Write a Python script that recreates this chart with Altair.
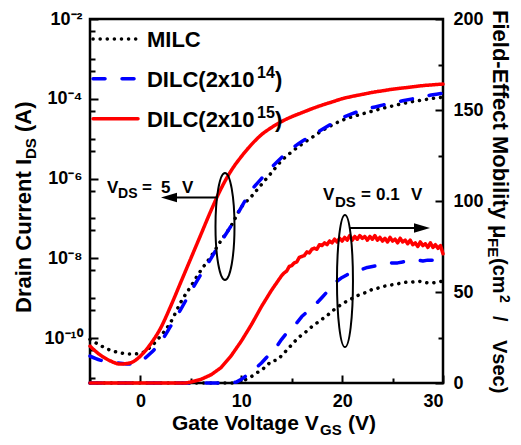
import altair as alt
import pandas as pd

# ---------------- data ----------------
SERIES = ["MILC", "DILC(2x10^14)", "DILC(2x10^15)"]
COLORS = ["#000000", "#0000ff", "#ff0000"]
DASHES = [[0.1, 7], [12, 17], [1, 0]]

# transfer curves (left axis), log10 of drain current
V_ID = [-5, -4, -3, -2, -1, 0, 1, 2, 3, 4, 5, 6, 7, 8, 9, 10, 11, 12, 13, 14,
        15, 16, 17, 18, 19, 20, 21, 22, 23, 24, 25, 26, 27, 28, 29, 30]
LOGI_MILC = [-10.03, -10.18, -10.3, -10.37, -10.4, -10.38, -10.22, -9.95, -9.6, -9.1,
             -8.7, -8.3, -7.95, -7.55, -7.18, -6.72, -6.45, -6.15, -5.85, -5.55,
             -5.33, -5.14, -4.97, -4.8, -4.66, -4.54, -4.45, -4.38, -4.31, -4.24,
             -4.18, -4.12, -4.07, -4.03, -3.99, -3.96]
LOGI_D14 = [-10.45, -10.55, -10.6, -10.63, -10.65, -10.58, -10.38, -10.1, -9.7, -9.28,
            -8.83, -8.4, -8.0, -7.58, -7.18, -6.72, -6.3, -6.0, -5.72, -5.47,
            -5.25, -5.07, -4.92, -4.77, -4.62, -4.48, -4.37, -4.29, -4.22, -4.16,
            -4.1, -4.05, -4.0, -3.95, -3.9, -3.86]
LOGI_D15 = [-10.2, -10.42, -10.57, -10.65, -10.62, -10.45, -10.15, -9.75, -9.2, -8.6,
            -8.0, -7.4, -6.8, -6.25, -5.8, -5.45, -5.15, -4.9, -4.72, -4.57,
            -4.45, -4.35, -4.25, -4.16, -4.08, -4.0, -3.94, -3.89, -3.84, -3.8,
            -3.76, -3.73, -3.7, -3.67, -3.65, -3.63]

# field-effect mobility (right axis)
V_MU_MILC = [-5, 0, 5, 9.5, 10, 10.5, 11, 11.5, 12, 12.5, 13, 13.5, 14, 14.5, 15, 15.5,
             16, 16.5, 17, 17.5, 18, 18.5, 19, 19.5, 20, 20.5, 21, 21.5, 22, 22.5,
             23, 23.5, 24, 24.5, 25, 25.5, 26, 26.5, 27, 27.5, 28, 28.5, 29, 29.5, 30]
MU_MILC = [0, 0, 0, 0, 1, 2, 3.5, 5.5, 7, 9.5, 12, 12.5, 15, 18, 21, 24,
           26.5, 28.5, 31, 33, 35, 37, 39.5, 41.5, 43.5, 45, 46.5, 48, 49, 50,
           51.5, 52, 53, 53.5, 54, 54.5, 55, 55.5, 55.5, 56, 55.5, 55, 55, 55.5, 56]

V_MU_D14 = [-5, 0, 5, 9, 9.5, 10, 10.5, 11, 11.5, 12, 12.5, 13, 13.5, 14, 14.5, 15,
            15.5, 16, 16.5, 17, 17.5, 18, 18.5, 19, 19.5, 20, 20.5, 21, 21.5, 22,
            22.5, 23, 23.5, 24, 24.5, 25, 25.5, 26, 26.5, 27, 27.5, 28, 28.5, 29,
            29.5, 30]
MU_D14 = [0, 0, 0, 0, 0.5, 2, 4, 6.5, 8.5, 11, 14, 17, 20, 24, 27.5, 30,
          33, 36.5, 39, 41.5, 44, 47, 50, 52.5, 56, 58, 59.5, 61, 62, 62.5,
          63.5, 64, 64.5, 65, 65.5, 66, 66, 66.5, 67, 67.5, 67.5, 67, 67.5, 67.5,
          68, 68]

V_MU_D15 = ([-5, 0, 4.5, 5, 6, 7, 8, 9, 10, 10.5, 11, 11.5, 12, 12.5, 13, 13.5]
            + [14, 14.25, 14.5, 14.75, 15, 15.25, 15.5, 15.75, 16, 16.25, 16.5, 16.75,
               17, 17.25, 17.5, 17.75, 18, 18.25, 18.5, 18.75, 19, 19.25, 19.5, 19.75,
               20, 20.25, 20.5, 20.75, 21, 21.25, 21.5, 21.75, 22, 22.25, 22.5, 22.75,
               23, 23.25, 23.5, 23.75, 24, 24.25, 24.5, 24.75, 25, 25.25, 25.5, 25.75,
               26, 26.25, 26.5, 26.75, 27, 27.25, 27.5, 27.75, 28, 28.25, 28.5, 28.75,
               29, 29.25, 29.5, 29.75, 30])
MU_D15 = ([0, 0, 0, 0.5, 2, 4.5, 8.5, 15, 23, 27.5, 32, 37, 42, 46.5, 51, 55]
          + [59, 60.5, 61.5, 64, 64.5, 66, 66.5, 69, 69.5, 70, 72, 71.5,
             73.5, 74, 73.5, 76, 75.5, 77, 76, 78, 77, 79, 77.5, 79.5,
             78, 80, 78.5, 81, 78.5, 80.5, 79, 81, 79.5, 80.5, 78.5, 80.5,
             79, 81, 78.5, 80, 78, 79.5, 77.5, 80, 78, 79, 77, 79.5,
             77.5, 78.5, 76.5, 78.5, 76, 77, 75, 77.5, 75.5, 76.5, 74.5, 77,
             74.5, 76, 74, 75.5, 71])

# axis tick values
X_LABELS = [0, 10, 20, 30]
X_MINOR = [-5, 5, 15, 25]
I_LABELS = [1e-10, 1e-8, 1e-6, 1e-4, 1e-2]
I_MINOR = [1e-11, 5e-11, 5e-10, 1e-9, 5e-9, 5e-8, 1e-7, 5e-7, 5e-6, 1e-5, 5e-5,
           5e-4, 1e-3, 5e-3]
MU_LABELS = [0, 50, 100, 150, 200]
MU_MINOR = [25, 75, 125, 175]

# ---------------- tables ----------------
rows = []
for s, logs in zip(SERIES, [LOGI_MILC, LOGI_D14, LOGI_D15]):
    for v, l in zip(V_ID, logs):
        rows.append({"V": v, "I": 10 ** l, "series": s})
df_id = pd.DataFrame(rows)

rows = []
for s, vs, ms in zip(SERIES, [V_MU_MILC, V_MU_D14, V_MU_D15], [MU_MILC, MU_D14, MU_D15]):
    for v, m in zip(vs, ms):
        rows.append({"V": v, "mu": m, "series": s})
df_mu = pd.DataFrame(rows)

one = pd.DataFrame({"k": [0]})

# ---------------- layout / style ----------------
FONT = "Liberation Sans"
W, H = 353, 364


def xsc():
    return alt.Scale(domain=[-5, 30], nice=False, zero=False)


def isc():
    return alt.Scale(type="log", domain=[7.5e-12, 1e-2], nice=False)


def msc():
    return alt.Scale(domain=[0, 200], nice=False, zero=False)


color_enc = alt.Color("series:N", scale=alt.Scale(domain=SERIES, range=COLORS), legend=None)
dash_enc = alt.StrokeDash("series:N", scale=alt.Scale(domain=SERIES, range=DASHES), legend=None)


def label_axis(orient, values, pad, expr=None):
    kw = dict(orient=orient, values=values, ticks=False, tickSize=0, domain=False, grid=False,
              labelFont=FONT, labelFontSize=18, labelFontWeight="bold", labelColor="black",
              labelPadding=pad, labelOverlap=False, title=None)
    if expr:
        kw["labelExpr"] = expr
    return alt.Axis(**kw)


def tick_axis(orient, offset, values, size):
    return alt.Axis(orient=orient, offset=offset, values=values, ticks=True, tickSize=size,
                    tickWidth=2, tickColor="black", labels=False, domain=False, grid=False,
                    title=None)


I_EXPR = ("datum.value > 1e-3 ? '10\u207b\u00b2' : datum.value > 1e-5 ? '10\u207b\u2074' : "
          "datum.value > 1e-7 ? '10\u207b\u2076' : datum.value > 1e-9 ? '10\u207b\u2078' : "
          "'10\u207b\u00b9\u2070'")

layers = []

# transfer curves + left labels + bottom labels
layers.append(
    alt.Chart(df_id).mark_line(strokeWidth=3.5, strokeCap="round", strokeJoin="round",
                               interpolate="monotone").encode(
        x=alt.X("V:Q", scale=xsc(), axis=label_axis("bottom", X_LABELS, 9)),
        y=alt.Y("I:Q", scale=isc(), axis=label_axis("left", I_LABELS, 8, I_EXPR)),
        color=color_enc, strokeDash=dash_enc,
    )
)
# inward ticks: bottom major / left major
layers.append(
    alt.Chart(df_id).mark_line(opacity=0).encode(
        x=alt.X("V:Q", scale=xsc(), axis=tick_axis("top", -H, X_LABELS, 8)),
        y=alt.Y("I:Q", scale=isc(), axis=tick_axis("right", -W, I_LABELS, 8)),
    )
)
layers.append(
    alt.Chart(df_id).mark_line(opacity=0).encode(
        x=alt.X("V:Q", scale=xsc(), axis=tick_axis("top", -H, X_MINOR, 5)),
        y=alt.Y("I:Q", scale=isc(), axis=tick_axis("right", -W, I_MINOR, 5)),
    )
)
# mobility curves + right labels
layers.append(
    alt.Chart(df_mu).mark_line(strokeWidth=3.5, strokeCap="round", strokeJoin="round").encode(
        x=alt.X("V:Q", scale=xsc(), axis=None),
        y=alt.Y("mu:Q", scale=msc(), axis=label_axis("right", MU_LABELS, 10)),
        color=color_enc, strokeDash=dash_enc,
    )
)
layers.append(
    alt.Chart(df_mu).mark_line(opacity=0).encode(
        x=alt.X("V:Q", scale=xsc(), axis=None),
        y=alt.Y("mu:Q", scale=msc(), axis=tick_axis("left", -W, MU_LABELS, 8)),
    )
)
layers.append(
    alt.Chart(df_mu).mark_line(opacity=0).encode(
        x=alt.X("V:Q", scale=xsc(), axis=None),
        y=alt.Y("mu:Q", scale=msc(), axis=tick_axis("left", -W, MU_MINOR, 5)),
    )
)


def xd(v):
    return alt.XDatum(v, type="quantitative", scale=xsc(), axis=None)


def yd(v, sc):
    return alt.YDatum(v, type="quantitative", scale=sc, axis=None)


def dtext(t, v, yv, sc, size, dx=0, dy=0):
    return alt.Chart(one).mark_text(
        text=t, font=FONT, fontSize=size, fontWeight="bold", color="black",
        align="left", baseline="alphabetic", dx=dx, dy=dy,
    ).encode(x=xd(v), y=yd(yv, sc))


def ptext(t, x, y, size, angle=0):
    return alt.Chart(one).mark_text(
        text=t, font=FONT, fontSize=size, fontWeight="bold", color="black",
        align="left", baseline="alphabetic", angle=angle,
    ).encode(x=alt.value(x), y=alt.value(y))


def ellipse_path(ratio):
    k = 0.5523
    a = ratio
    ka = k * a
    return (f"M0,-1C{ka:.4f},-1 {a:.4f},-{k} {a:.4f},0C{a:.4f},{k} {ka:.4f},1 0,1"
            f"C{-ka:.4f},1 {-a:.4f},{k} {-a:.4f},0C{-a:.4f},-{k} {-ka:.4f},-1 0,-1Z")


# legend (inside plot, data coordinates)
LEG_X0, LEG_X1, LEG_TX = -4.7, -0.24, 0.65
LEG_ROWS = [10 ** -2.5, 10 ** -3.5, 10 ** -4.5]
LEG_BASE = [10 ** -2.7, 10 ** -3.7, 10 ** -4.7]
for col, dash, yv in zip(COLORS, DASHES, LEG_ROWS):
    layers.append(
        alt.Chart(one).mark_rule(strokeWidth=3.5, strokeCap="round", color=col, strokeDash=dash)
        .encode(x=xd(LEG_X0), x2=alt.X2Datum(LEG_X1), y=yd(yv, isc()))
    )
layers.append(dtext("MILC", LEG_TX, LEG_BASE[0], isc(), 22))
for exp, yv in zip(["14", "15"], LEG_BASE[1:]):
    layers.append(dtext("DILC(2x10", LEG_TX, yv, isc(), 22))
    layers.append(dtext(exp, LEG_TX, yv, isc(), 16, dx=110, dy=-9))
    layers.append(dtext(")", LEG_TX, yv, isc(), 22, dx=128))

# V_DS = 5 V annotation
A1V, A1I = -3.31, 10 ** -6.35
layers += [
    dtext("V", A1V, A1I, isc(), 17),
    dtext("DS", A1V, A1I, isc(), 14, dx=11, dy=5),
    dtext("=", A1V, A1I, isc(), 17, dx=35),
    dtext("5", A1V, A1I, isc(), 17, dx=54),
    dtext("V", A1V, A1I, isc(), 17, dx=75),
]
# V_DS = 0.1 V annotation
A2V, A2M = 18.10, 100.5
layers += [
    dtext("V", A2V, A2M, msc(), 17),
    dtext("DS", A2V, A2M, msc(), 15, dx=12, dy=7),
    dtext("=", A2V, A2M, msc(), 17, dx=38),
    dtext("0.1", A2V, A2M, msc(), 17, dx=53),
    dtext("V", A2V, A2M, msc(), 17, dx=88),
]

# ellipses
layers.append(
    alt.Chart(one).mark_point(shape=ellipse_path(9.5 / 53.5), size=107 ** 2, filled=False,
                              stroke="black", strokeWidth=2, opacity=1)
    .encode(x=xd(8.385), y=yd(10 ** -7.2, isc()))
)
layers.append(
    alt.Chart(one).mark_point(shape=ellipse_path(8 / 66), size=132 ** 2, filled=False,
                              stroke="black", strokeWidth=2, opacity=1)
    .encode(x=xd(20.28), y=yd(56.0, msc()))
)
# arrows
ARR1_I = 10 ** -6.475
layers.append(
    alt.Chart(one).mark_rule(color="black", strokeWidth=2)
    .encode(x=xd(3.4), x2=alt.X2Datum(7.59), y=yd(ARR1_I, isc()))
)
layers.append(
    alt.Chart(one).mark_point(shape="M-1,0L1,-0.6L1,0.6Z", size=256, filled=True,
                              color="black", opacity=1)
    .encode(x=xd(2.83), y=yd(ARR1_I, isc()))
)
ARR2_M = 85.2
layers.append(
    alt.Chart(one).mark_rule(color="black", strokeWidth=2)
    .encode(x=xd(20.78), x2=alt.X2Datum(27.3), y=yd(ARR2_M, msc()))
)
layers.append(
    alt.Chart(one).mark_point(shape="M1,0L-1,-0.6L-1,0.6Z", size=256, filled=True,
                              color="black", opacity=1)
    .encode(x=xd(27.92), y=yd(ARR2_M, msc()))
)

# axis titles (with sub/superscripts), pixel positions relative to the plot area
layers += [
    ptext("Drain Current I", -59, 294, 22, angle=270),
    ptext("DS", -54, 140, 15, angle=270),
    ptext("(A)", -59, 113, 22, angle=270),
    ptext("Gate Voltage V", 82, 411, 21),
    ptext("GS", 230, 416, 15),
    ptext("(V)", 258, 411, 21),
    ptext("Field-Effect Mobility", 403, -9, 22, angle=90),
    ptext("\u03bc", 403, 206, 22, angle=90),
    ptext("FE", 398, 219, 15, angle=90),
    ptext("(cm", 403, 239, 20, angle=90),
    ptext("2", 410, 276, 14, angle=90),
    ptext("/", 403, 297, 20, angle=90),
    ptext("Vsec)", 403, 321, 20, angle=90),
]

chart = (
    alt.layer(*layers)
    .resolve_scale(y="independent")
    .resolve_axis(x="independent", y="independent")
    .properties(width=W, height=H, autosize=alt.AutoSizeParams(type="none"),
                padding={"left": 82, "top": 11, "right": 70, "bottom": 54})
    .configure_view(stroke="black", strokeWidth=2.5)
)

chart.save("out.html", embed_options={"renderer": "svg", "actions": False})
